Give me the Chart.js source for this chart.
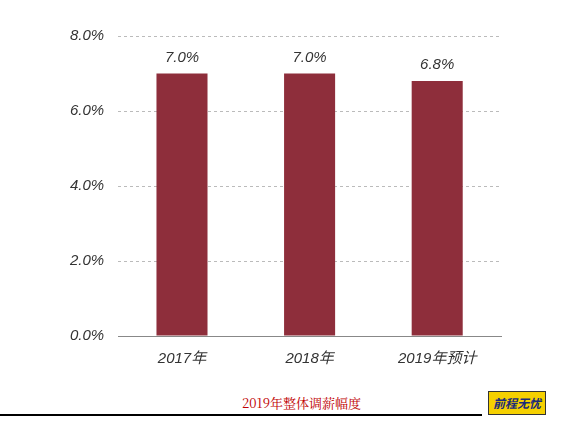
<!DOCTYPE html>
<html><head><meta charset="utf-8">
<script src="https://cdn.jsdelivr.net/npm/chart.js@4"></script>
<style>
body{margin:0;background:#fff;width:563px;height:423px;position:relative;overflow:hidden;font-family:"Noto Sans CJK SC",sans-serif}
#wrap{position:absolute;left:0;top:0;width:563px;height:374px}
#title{position:absolute;top:393px;left:0;width:563px;text-align:center;color:#c00000;font-family:"Noto Serif CJK SC","Liberation Serif",serif;font-size:13px;margin-left:20px}
#rule{position:absolute;left:0;top:414px;width:482px;height:2px;background:#000}
#logo{position:absolute;left:488px;top:391px;width:56px;height:22px;background:#f5d000;border:1px solid #333;font-size:12px;font-weight:bold;font-style:italic;color:#1a2a7a;text-align:center;line-height:22px}
</style></head><body>
<div id="wrap"><canvas id="c"></canvas></div>
<div id="title">2019年整体调薪幅度</div>
<div id="rule"></div>
<div id="logo">前程无忧</div>
<script>
const categories = ["2017年", "2018年", "2019年预计"];
const values = [7.0, 7.0, 6.8];
const yTicks = [0, 2, 4, 6, 8];

const labelPlugin = {
  id: "labels",
  afterDatasetsDraw(chart) {
    const ctx = chart.ctx;
    ctx.save();
    ctx.font = "italic 15px 'Liberation Sans', Arial";
    ctx.fillStyle = "#333";
    ctx.textAlign = "center";
    chart.getDatasetMeta(0).data.forEach((bar, i) => {
      ctx.fillText(values[i].toFixed(1) + "%", bar.x, bar.y - 12);
    });
    ctx.restore();
  }
};

new Chart(document.getElementById("c"), {
  type: "bar",
  data: {
    labels: categories,
    datasets: [{ data: values, backgroundColor: "#8e2e3b", categoryPercentage: 1, barPercentage: 0.4 }]
  },
  options: {
    responsive: true, maintainAspectRatio: false, animation: false,
    layout: { padding: { left: 56, right: 62, top: 36, bottom: 0 } },
    plugins: { legend: { display: false }, tooltip: { enabled: false } },
    scales: {
      x: {
        grid: { display: false },
        border: { color: "#888", width: 1 },
        ticks: { color: "#333", font: { size: 15, style: "italic", family: "'Liberation Sans', 'Noto Sans CJK SC'" }, padding: 6 }
      },
      y: {
        min: 0, max: 8,
        afterBuildTicks: (s) => { s.ticks = yTicks.map(v => ({ value: v })); },
        grid: { color: "#bbb", drawTicks: false },
        border: { display: false, dash: [3, 3] },
        ticks: { color: "#333", padding: 14, font: { size: 15, style: "italic", family: "'Liberation Sans', Arial" },
          callback: (v) => v.toFixed(1) + "%" }
      }
    }
  },
  plugins: [labelPlugin]
});
</script>
</body></html>
